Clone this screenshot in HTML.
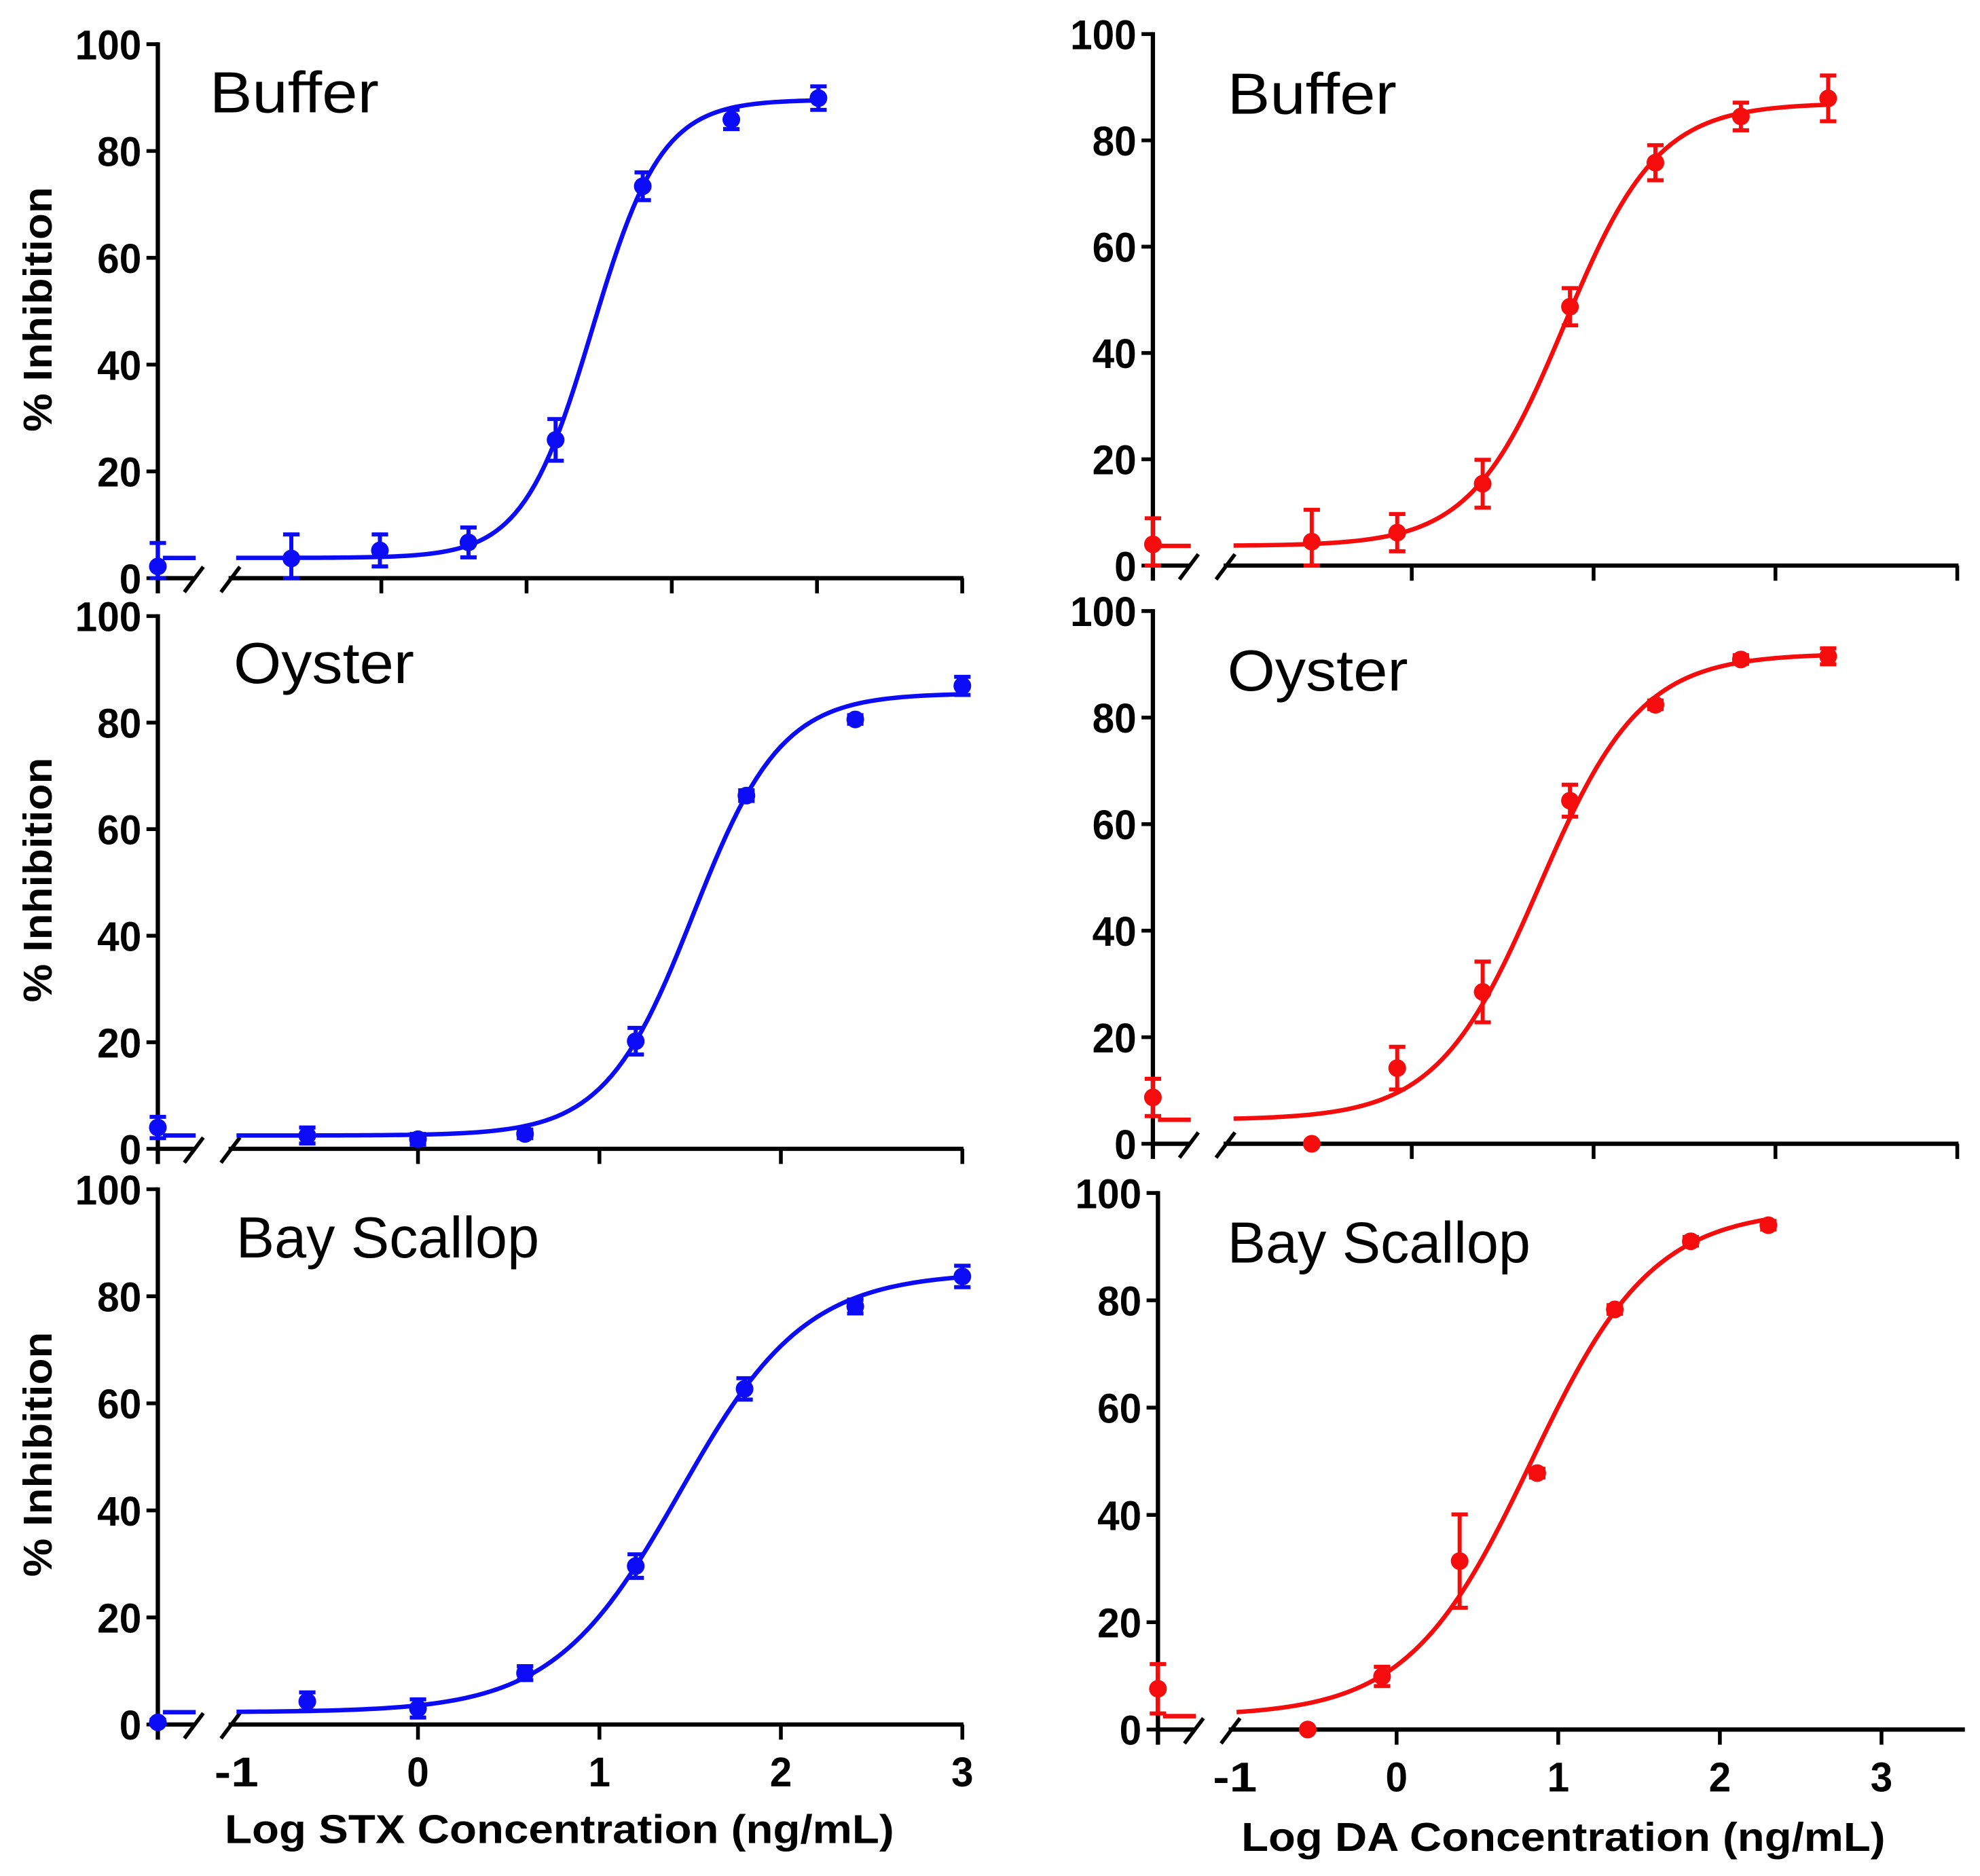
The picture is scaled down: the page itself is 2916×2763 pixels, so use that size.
<!DOCTYPE html>
<html><head><meta charset="utf-8">
<style>
html,body{margin:0;padding:0;background:#fff;}
svg{display:block;}
text{font-family:"Liberation Sans",Arial,sans-serif;}
</style></head>
<body>
<svg id="fig" xmlns="http://www.w3.org/2000/svg" width="2916" height="2763" viewBox="0 0 1568 1486" preserveAspectRatio="none">
<rect x="0" y="0" width="1568" height="1486" fill="#fff"/>
</svg>
<script>
// ---- data ----
// STX Buffer
const tlX = [-1.62, -1.01, -0.40, 0.20, 0.80, 1.41, 2.01];
const tlY = [3.7, 5.2, 6.7, 25.9, 73.4, 85.9, 89.9];
const tlErr = [4.5, 3.0, 2.8, 3.9, 2.6, 1.8, 2.2];
const tlBreak = [2.2, 4.4];
const tlFit = [3.8, 89.6, 0.453, 1.82];
// STX Oyster
const mlX = [-0.61, 0.0, 0.59, 1.20, 1.81, 2.41, 3.0];
const mlY = [2.5, 1.8, 2.8, 20.2, 66.3, 80.6, 86.9];
const mlErr = [1.5, 1.0, 0.8, 2.5, 1.0, 0.8, 1.7];
const mlBreak = [4.0, 2.0];
const mlFit = [2.5, 85.5, 1.517, 1.79];
// STX Bay Scallop
const blX = [-0.61, 0.0, 0.59, 1.20, 1.80, 2.41, 3.0];
const blY = [4.3, 3.0, 9.6, 29.6, 62.7, 78.1, 83.7];
const blErr = [1.7, 1.7, 1.3, 2.2, 2.0, 1.3, 2.0];
const blBreak = [0.4, 0.5];
const blFit = [2.3, 84.5, 1.443, 1.25];
// DA Buffer
const trX = [-0.55, -0.08, 0.39, 0.87, 1.34, 1.81, 2.29];
const trY = [4.5, 6.2, 15.4, 48.7, 75.8, 84.5, 87.9];
const trErr = [6.0, 3.5, 4.5, 3.5, 3.3, 2.6, 4.3];
const trBreak = [4.0, 4.9];
const trFit = [3.7, 87.0, 0.84, 1.69];
// DA Oyster
const mrX = [-0.55, -0.08, 0.39, 0.87, 1.34, 1.81, 2.29];
const mrY = [0.0, 14.2, 28.5, 64.4, 82.4, 90.9, 91.5];
const mrErr = [0, 4.0, 5.7, 3.0, 0.8, 0.8, 1.5];
const mrBreak = [8.7, 3.5];
const mrFit = [4.5, 92.0, 0.70, 1.55];
// DA Bay Scallop
const brX = [-0.55, -0.09, 0.39, 0.87, 1.35, 1.82, 2.30];
const brY = [0.0, 9.9, 31.4, 47.8, 78.3, 91.0, 94.0];
const brErr = [0, 1.8, 8.7, 0.8, 0.8, 0.8, 0.8];
const brBreak = [7.6, 4.6];
const brFit = [2.5, 97.0, 0.83, 1.15];

const yTicks = [0, 20, 40, 60, 80, 100];
const xTickVals = [-1, 0, 1, 2, 3];
const xTickLabels = ["-1", "0", "1", "2", "3"];

// ---- drawing ----
const NS = "http://www.w3.org/2000/svg";
const svg = document.getElementById("fig");
function mk(tag, attrs, parent) {
  const e = document.createElementNS(NS, tag);
  for (const k in attrs) e.setAttribute(k, attrs[k]);
  (parent || svg).appendChild(e);
  return e;
}
function logistic(p, x) { return p[0] + (p[1] - p[0]) / (1 + Math.pow(10, (p[2] - x) * p[3])); }

function drawPanel(cfg) {
  const g = mk("g", {});
  
  
  const sx = v => cfg.x0 + v * cfg.unit;
  const sy = v => cfg.y0 - v * (cfg.y0 - cfg.y100) / 100;
  const ax = cfg.ax;
  const ya = mk("line", {x1: ax, y1: cfg.y100 - 1.5, x2: ax, y2: cfg.y0 + 12, stroke: "#000", "stroke-width": 3.4}, g);
  
  
  yTicks.forEach(t => {
    mk("line", {x1: ax - 9, y1: sy(t), x2: ax, y2: sy(t), stroke: "#000", "stroke-width": 3}, g);
    const tl = mk("text", {x: ax - 13, y: sy(t) + 12, "text-anchor": "end", "font-size": 33, "font-weight": "bold", textLength: String(t).length * 17.5, lengthAdjust: "spacingAndGlyphs"}, g);
    tl.textContent = t;
    
    
  });
  mk("line", {x1: ax, y1: cfg.y0, x2: ax + 29, y2: cfg.y0, stroke: "#000", "stroke-width": 3.4}, g);
  const xa = mk("line", {x1: ax + 56, y1: cfg.y0, x2: cfg.xEnd, y2: cfg.y0, stroke: "#000", "stroke-width": 3.4}, g);
  
  
  [[21, 36], [50, 65]].forEach(s => {
    const b = mk("line", {x1: ax + s[0], y1: cfg.y0 + 11, x2: ax + s[1], y2: cfg.y0 - 9, stroke: "#000", "stroke-width": 3}, g);
    
    
  });
  cfg.ticks.forEach(v => {
    mk("line", {x1: sx(v), y1: cfg.y0, x2: sx(v), y2: cfg.y0 + 12, stroke: "#000", "stroke-width": 3}, g);
  });
  if (cfg.labels) {
    cfg.labels.forEach(v => {
      const s = xTickLabels[xTickVals.indexOf(v)];
      const lb = mk("text", {x: sx(v), y: cfg.y0 + 49, "text-anchor": "middle", "font-size": 33, "font-weight": "bold", textLength: s.length * 17.5, lengthAdjust: "spacingAndGlyphs"}, g);
      lb.textContent = s;
      
      
    });
  }
  const tt = mk("text", {x: cfg.tx, y: cfg.ty, "font-size": 46, textLength: cfg.tw, lengthAdjust: "spacingAndGlyphs"}, g);
  tt.textContent = cfg.title;
  
  
  const fit = cfg.fit;
  let d = "";
  const n = 120;
  for (let i = 0; i <= n; i++) {
    const xv = cfg.cStart + (cfg.cEnd - cfg.cStart) * i / n;
    d += (i ? "L" : "M") + sx(xv).toFixed(2) + "," + sy(logistic(fit, xv)).toFixed(2);
  }
  const c = mk("path", {d: d, fill: "none", stroke: cfg.color, "stroke-width": 3.5}, g);
  
  
  const seg = mk("line", {x1: ax + 4, y1: sy(fit[0]), x2: ax + 30, y2: sy(fit[0]), stroke: cfg.color, "stroke-width": 3.5}, g);
  
  
  function point(px, v, e) {
    if (e > 0) {
      const t = sy(v + e), b = sy(Math.max(0, v - e));
      const eb = mk("path", {d: `M${px},${t}L${px},${b}M${px - 6.5},${t}L${px + 6.5},${t}M${px - 6.5},${b}L${px + 6.5},${b}`, stroke: cfg.color, "stroke-width": 3.2, fill: "none"}, g);
      
      
    }
    const ci = mk("circle", {cx: px, cy: sy(v), r: 7, fill: cfg.color}, g);
    
    
  }
  point(ax, cfg.brk[0], cfg.brk[1]);
  cfg.xs.forEach((xv, i) => point(sx(xv), cfg.ys[i], cfg.errs[i]));
}

const BLUE = "#0b0bf5", RED = "#f50c0c";
drawPanel({name: "panel-stx-buffer", ax: 125, x0: 417, unit: 115, y0: 458, y100: 35, xEnd: 763, ticks: [-1, 0, 1, 2, 3], labels: null,
  title: "Buffer", tx: 166, ty: 89, tw: 134, color: BLUE, fit: tlFit, cStart: -2.0, cEnd: 2.05, xs: tlX, ys: tlY, errs: tlErr, brk: tlBreak});
drawPanel({name: "panel-stx-oyster", ax: 125, x0: 331, unit: 143.7, y0: 910, y100: 488, xEnd: 763, ticks: [0, 1, 2, 3], labels: null,
  title: "Oyster", tx: 185, ty: 541, tw: 143, color: BLUE, fit: mlFit, cStart: -1.0, cEnd: 3.0, xs: mlX, ys: mlY, errs: mlErr, brk: mlBreak});
drawPanel({name: "panel-stx-bay-scallop", ax: 125, x0: 331, unit: 143.7, y0: 1366, y100: 942, xEnd: 763, ticks: [0, 1, 2, 3], labels: [-1, 0, 1, 2, 3],
  title: "Bay Scallop", tx: 187, ty: 996, tw: 240, color: BLUE, fit: blFit, cStart: -1.0, cEnd: 3.0, xs: blX, ys: blY, errs: blErr, brk: blBreak});
drawPanel({name: "panel-da-buffer", ax: 913, x0: 1118, unit: 144, y0: 448, y100: 27, xEnd: 1551, ticks: [0, 1, 2, 3], labels: null,
  title: "Buffer", tx: 972, ty: 90, tw: 134, color: RED, fit: trFit, cStart: -0.98, cEnd: 2.3, xs: trX, ys: trY, errs: trErr, brk: trBreak});
drawPanel({name: "panel-da-oyster", ax: 913, x0: 1118, unit: 144, y0: 906, y100: 484, xEnd: 1551, ticks: [0, 1, 2, 3], labels: null,
  title: "Oyster", tx: 972, ty: 547, tw: 143, color: RED, fit: mrFit, cStart: -0.98, cEnd: 2.3, xs: mrX, ys: mrY, errs: mrErr, brk: mrBreak});
drawPanel({name: "panel-da-bay-scallop", ax: 917, x0: 1106, unit: 128, y0: 1370, y100: 945, xEnd: 1556, ticks: [0, 1, 2, 3], labels: [-1, 0, 1, 2, 3],
  title: "Bay Scallop", tx: 972, ty: 1000, tw: 240, color: RED, fit: brFit, cStart: -0.99, cEnd: 2.3, xs: brX, ys: brY, errs: brErr, brk: brBreak});

[245, 697, 1152].forEach(cy => {
  const t = mk("text", {x: 0, y: 0, transform: `translate(41,${cy}) rotate(-90)`, "text-anchor": "middle", "font-size": 32, "font-weight": "bold", textLength: 194, lengthAdjust: "spacingAndGlyphs"});
  t.textContent = "% Inhibition";
  
  
});
const xt1 = mk("text", {x: 443, y: 1460, "text-anchor": "middle", "font-size": 32, "font-weight": "bold", textLength: 530, lengthAdjust: "spacingAndGlyphs"});
xt1.textContent = "Log STX Concentration (ng/mL)";


const xt2 = mk("text", {x: 1238, y: 1466, "text-anchor": "middle", "font-size": 32, "font-weight": "bold", textLength: 510, lengthAdjust: "spacingAndGlyphs"});
xt2.textContent = "Log DA Concentration (ng/mL)";


</script>
</body></html>
